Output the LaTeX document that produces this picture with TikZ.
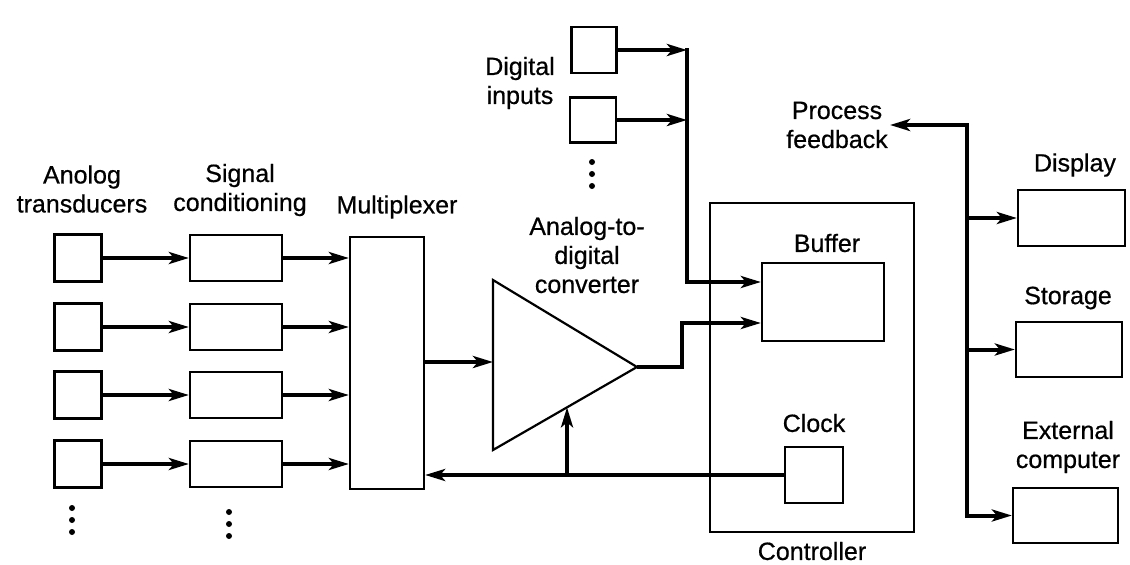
\documentclass[tikz,border=0pt]{standalone}
\usepackage{fontspec}
\setmainfont{Liberation Sans}
\newfontfamily\lblfont[FakeBold=0.6]{Liberation Sans}
\usetikzlibrary{arrows.meta,calc}
\begin{document}
\begin{tikzpicture}[x=1pt,y=-1pt,
  box/.style={draw, line width=2.2pt, inner sep=0pt},
  wire/.style={line width=4pt},
  arr/.style={line width=4pt, -{Stealth[length=20pt,width=12pt,inset=5pt]}},
  lbl/.style={font=\lblfont\fontsize{25}{29}\selectfont, align=center, inner sep=0pt},
  dot/.style={fill=black}]
\useasboundingbox (0,0) rectangle (1130,565);
\clip (0,0) rectangle (1130,565);
% analog transducers
\foreach \i/\y in {1/258,2/327,3/395,4/464}{
  \node[box, minimum width=47pt, minimum height=47pt] (t\i) at (78,\y) {};
  \node[box, minimum width=92pt, minimum height=46pt] (c\i) at (236,\y) {};
}
\node[box, minimum width=74pt, minimum height=252pt] (mux) at (387,363) {};
\foreach \i in {1,2,3,4}{
  \draw[arr] (t\i.east) -- (c\i.west);
  \draw[arr] (c\i.east) -- (c\i.east -| mux.west);
}
\foreach \y in {508,520,532}{\fill[dot] (72,\y) circle (3);}
\foreach \y in {512,524,536}{\fill[dot] (229,\y) circle (3);}
\node[lbl] (lt) at (82,189) {Anolog\\transducers};
\node[lbl] (ls) at (240,190) {Signal\\conditioning};
\node[lbl] (lm) at (397,207) {Multiplexer};
% ADC triangle
\coordinate (adcTL) at (493,280);
\coordinate (adcBL) at (493,450);
\coordinate (adcO) at (637,367);
\draw[line width=2.2pt, line join=miter] (adcTL) -- (adcO) -- (adcBL) -- cycle;
\coordinate (adcIn) at (493,362);
\draw[arr] (mux.east |- adcIn) -- (adcIn);
\node[lbl] (la) at (587,255) {Analog-to-\\digital\\converter};
% digital inputs
\node[box, minimum width=45pt, minimum height=46pt] (d1) at (594,50) {};
\node[box, minimum width=46pt, minimum height=45pt] (d2) at (593,120) {};
\foreach \y in {162,174,186}{\fill[dot] (592,\y) circle (3);}
\node[lbl] (ld) at (520,83) {Digital\\inputs};
% controller
\node[box, minimum width=204pt, minimum height=329pt] (ctrl) at (812,367.5) {};
\node[box, minimum width=122pt, minimum height=78pt] (buf) at (823,302) {};
\node[box, minimum width=58pt, minimum height=56pt] (clk) at (814,475) {};
\node[lbl] (lb) at (827,243) {Buffer};
\node[lbl] (lc) at (814,423) {Clock};
\node[lbl] (lctl) at (812,551) {Controller};
% digital bus
\coordinate (db1) at (687,50);
\coordinate (db2) at (687,120);
\coordinate (dbB) at (687,282);
\draw[arr] (d1.east) -- (db1);
\draw[arr] (d2.east) -- (db2);
\draw[wire, line cap=rect] (db1) -- (dbB);
\draw[arr] (dbB) -- (dbB -| buf.west);
% ADC output
\coordinate (ao1) at (682,367);
\coordinate (ao2) at (682,323);
\draw[arr, line join=miter] (adcO) -- (ao1) -- (ao2) -- (ao2 -| buf.west);
% clock feedback
\coordinate (tapT) at ($(adcBL)!0.514!(adcO)$);
\coordinate (tapB) at (tapT |- clk.west);
\draw[arr] (clk.west) -- (clk.west -| mux.east);
\draw[arr] (tapB) -- (tapT);
% output side
\node[box, minimum width=107pt, minimum height=56pt] (disp) at (1071.5,218) {};
\node[box, minimum width=106pt, minimum height=55pt] (stor) at (1069,349.5) {};
\node[box, minimum width=105pt, minimum height=55pt] (ext) at (1065.5,515.5) {};
\node[lbl] (lpf) at (837,125) {Process\\feedback};
\node[lbl] (ldi) at (1075,165) {Display};
\node[lbl] (lst) at (1068,298) {Storage};
\node[lbl] (lex) at (1068,447) {External\\computer};
\coordinate (bt) at (967,125);
\coordinate (bb) at (967,515.5);
\draw[wire, line cap=rect] (bt) -- (bb);
\draw[arr] (bt) -- (890,125);
\draw[arr] (bt |- disp.west) -- (disp.west);
\draw[arr] (bt |- stor.west) -- (stor.west);
\draw[arr] (bb) -- (ext.west);
\end{tikzpicture}
\end{document}
